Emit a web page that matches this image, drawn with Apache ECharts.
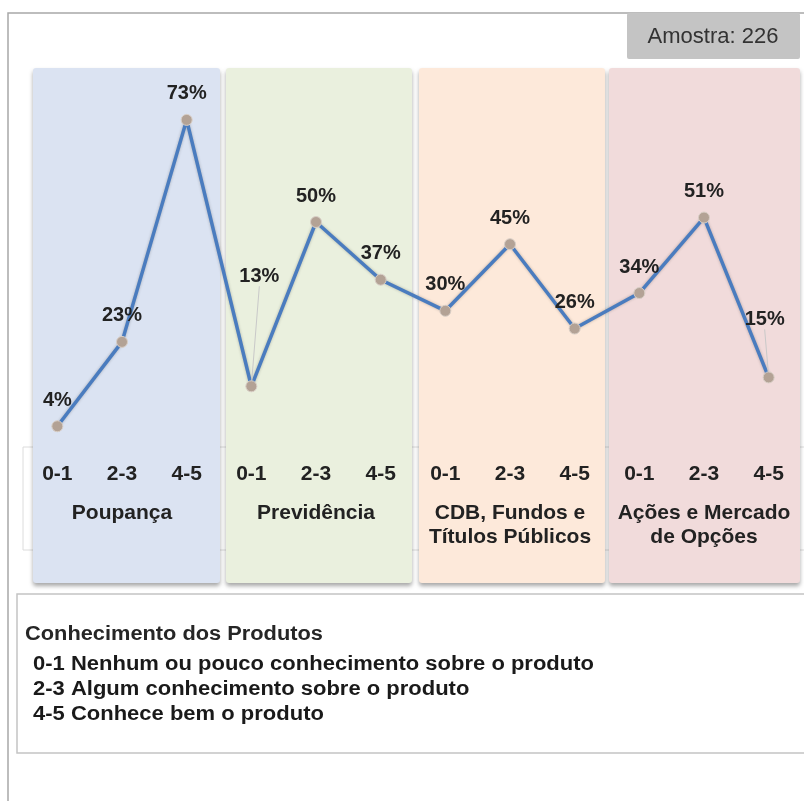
<!DOCTYPE html>
<html>
<head>
<meta charset="utf-8">
<script src="https://cdn.jsdelivr.net/npm/echarts@6/dist/echarts.min.js"></script>
<style>
  html, body { margin: 0; padding: 0; background: #ffffff; }
  #chart { width: 804px; height: 801px; }
</style>
</head>
<body>
<div id="chart"></div>
<script>
// Knowledge levels shown under every product
const levels = ['0-1', '2-3', '4-5'];
// Product groups (each one spans the three levels)
const products = ['Poupança', 'Previdência', 'CDB, Fundos e\nTítulos Públicos', 'Ações e Mercado\nde Opções'];
// Share of respondents per level, product by product (%)
const poupanca = [4, 23, 73];
const previdencia = [13, 50, 37];
const cdbFundos = [30, 45, 26];
const acoesOpcoes = [34, 51, 15];
// Legend texts
const legendTitle = 'Conhecimento dos Produtos';
const legendLines = [
  '0-1 Nenhum ou pouco conhecimento sobre o produto',
  '2-3 Algum conhecimento sobre o produto',
  '4-5 Conhece bem o produto'
];
const sampleText = 'Amostra: 226';

const panelColors = ['#dbe3f2', '#eaf0de', '#fde9da', '#f1dbdb'];

const categories = [];
products.forEach(function () { levels.forEach(function (l) { categories.push(l); }); });
const values = [].concat(poupanca, previdencia, cdbFundos, acoesOpcoes);

const FONT = '"Liberation Sans", Arial, sans-serif';

// Moved labels (with a guide line back to their point)
const labelShift = { 3: { dx: 8, dy: -84 }, 11: { dx: -4, dy: -32 } };

const seriesData = values.map(function (v, i) {
  const item = { value: v };
  if (labelShift[i]) {
    item.labelLine = { show: true, lineStyle: { color: '#c9c9c9', width: 1 } };
  }
  return item;
});

// Product panels behind the line
const panelRects = [
  [33, 187], [226, 186], [419, 186], [609, 191]
];
const panels = panelRects.map(function (r, i) {
  return {
    type: 'rect', z: -5,
    shape: { x: r[0], y: 68, width: r[1], height: 515, r: 3 },
    style: {
      fill: panelColors[i],
      shadowBlur: 4, shadowOffsetY: 3, shadowColor: 'rgba(0,0,0,0.35)'
    }
  };
});

const chart = echarts.init(document.getElementById('chart'), null, { renderer: 'canvas' });

chart.setOption({
  animation: false,
  backgroundColor: '#ffffff',
  grid: { left: 25, right: 3, top: 0, bottom: 357, containLabel: false },
  xAxis: [
    {
      type: 'category', data: categories, boundaryGap: true,
      axisLine: { show: false }, axisTick: { show: false },
      axisLabel: {
        interval: 0, margin: 20, color: '#222222',
        fontFamily: FONT, fontWeight: 'bold', fontSize: 21, lineHeight: 20
      }
    },
    {
      type: 'category', data: products, position: 'bottom', offset: 49,
      axisLine: { show: false }, axisTick: { show: false },
      axisLabel: {
        interval: 0, margin: 8, color: '#222222',
        fontFamily: FONT, fontWeight: 'bold', fontSize: 21, lineHeight: 24
      }
    }
  ],
  yAxis: { type: 'value', min: 0, max: 100, show: false, splitLine: { show: false } },
  series: [{
    type: 'line', xAxisIndex: 0, z: 3,
    data: seriesData,
    symbol: 'circle', symbolSize: 11,
    lineStyle: { color: '#4a7cbf', width: 3.5, shadowColor: 'rgba(0,0,0,0.25)', shadowBlur: 3 },
    itemStyle: { color: '#b3a295', borderColor: '#d8cec6', borderWidth: 1 },
    label: {
      show: true, position: 'top', distance: 10,
      formatter: '{c}%', color: '#222222',
      fontFamily: FONT, fontWeight: 'bold', fontSize: 20
    },
    labelLayout: function (p) {
      const s = labelShift[p.dataIndex];
      return s ? { dx: s.dx, dy: s.dy } : {};
    }
  }],
  graphic: [
    // outer frame
    { type: 'polyline', z: -10, shape: { points: [[8, 801], [8, 13], [804, 13]] },
      style: { stroke: '#a8a8a8', lineWidth: 1.5, fill: null } },
    // axis label band
    { type: 'rect', z: -8, shape: { x: 23, y: 447, width: 800, height: 103 },
      style: { fill: '#ffffff', stroke: '#dcdcdc', lineWidth: 1 } }
  ].concat(panels, [
    // sample size box
    { type: 'rect', z: 5, shape: { x: 627, y: 13, width: 173, height: 46, r: 2 },
      style: { fill: '#c4c4c4' } },
    { type: 'text', z: 6, x: 713, y: 37,
      style: { text: sampleText, fill: '#333333', font: '22px ' + FONT, align: 'center', verticalAlign: 'middle' } },
    // legend box
    { type: 'rect', z: 5, shape: { x: 17, y: 594, width: 800, height: 159 },
      style: { fill: '#ffffff', stroke: '#c4c4c4', lineWidth: 1.5 } },
    { type: 'text', z: 6, x: 25, y: 634, scaleX: 1.09,
      style: { text: legendTitle, fill: '#262626', font: 'bold 20px ' + FONT, verticalAlign: 'middle' } }
  ], legendLines.map(function (t, i) {
    return { type: 'text', z: 6, x: 33, y: 664 + i * 25, scaleX: 1.1,
      style: { text: t, fill: '#1a1a1a', font: 'bold 20px ' + FONT, verticalAlign: 'middle' } };
  }))
});
</script>
</body>
</html>
